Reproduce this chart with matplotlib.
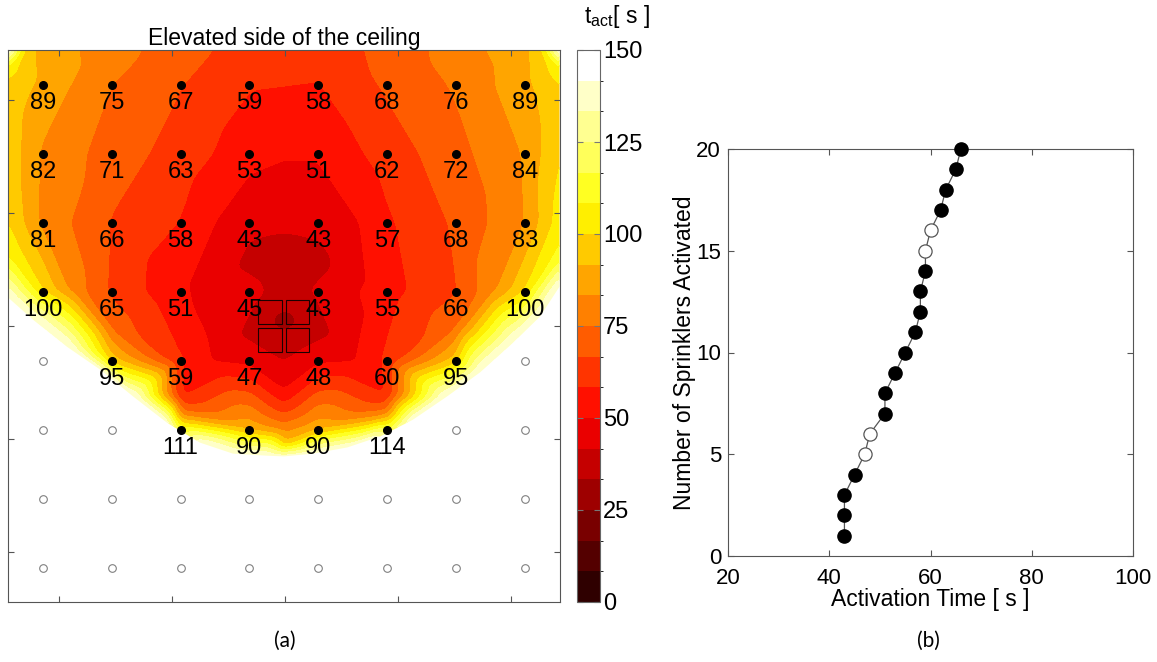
import numpy as np
import matplotlib
matplotlib.use("Agg")
import matplotlib.pyplot as plt
import matplotlib.tri as mtri
from matplotlib.patches import Polygon, Rectangle
from matplotlib.colors import ListedColormap, BoundaryNorm

plt.rcParams['font.family'] = ['Liberation Sans', 'DejaVu Sans']
plt.rcParams['mathtext.fontset'] = 'custom'
plt.rcParams['mathtext.rm'] = 'Liberation Sans'
plt.rcParams['mathtext.it'] = 'Liberation Sans:italic'

# ---------------- data: panel (a) ----------------
# sprinkler activation times [s]; row 0 = elevated side; None = not activated
T_GRID = [
    [89, 75, 67, 59, 58, 68, 76, 89],
    [82, 71, 63, 53, 51, 62, 72, 84],
    [81, 66, 58, 43, 43, 57, 68, 83],
    [100, 65, 51, 45, 43, 55, 66, 100],
    [None, 95, 59, 47, 48, 60, 95, None],
    [None, None, 111, 90, 90, 114, None, None],
    [None] * 8,
    [None] * 8,
]
NOT_ACT_T = 150.0          # contouring value assigned to non-activated heads

# field read along the ceiling edges (grid units, time [s])
EDGE_U = [-0.5, -0.5, -0.5, -0.5, -0.5, -0.5, -0.25,
          0, 1, 2, 3, 4, 5, 6, 7, 7.25,
          7.5, 7.5, 7.5, 7.5, 7.5, 7.5]
EDGE_V = [-0.5, -0.25, 0, 1, 2, 2.5, -0.5,
          -0.5, -0.5, -0.5, -0.5, -0.5, -0.5, -0.5, -0.5, -0.5,
          -0.5, -0.25, 0, 1, 2, 2.5]
EDGE_T = [148, 104, 98, 97, 100, 108, 96,
          88, 79, 70, 63, 62, 69, 79, 89, 98,
          148, 105, 100, 100, 104, 112]

# visible outer limit of the activated area
BND_U = [-0.5, -0.14, 0.35, 0.83, 1.31, 1.80, 2.28, 2.76, 3.26, 3.5,
         3.92, 4.42, 4.90, 5.37, 5.87, 6.35, 6.83, 7.22, 7.5]
BND_V = [3.09, 3.41, 3.80, 4.13, 4.52, 4.90, 5.19, 5.35, 5.38, 5.39,
         5.35, 5.26, 5.10, 4.86, 4.52, 4.17, 3.74, 3.36, 2.93]
BND_T = 143.0

# field read around the fire (dark plume) and near the lower limit
CORE_U = [3.5, 3.5, 3.5, 2.95, 4.1, 3.5, 3.5, 3.5, 2.9, 4.15,
          3.5, 3.5, 2.5, 4.5, 3.5, 2.5, 4.6, 3.5, 3.5, 2.5, 4.5,
          2.0, 2.0, 5.0, 5.0, 1.0, 6.0, 0.5, 6.5]
CORE_V = [3.4, 3.1, 2.6, 2.6, 2.6, 2.25, 1.1, 3.62, 3.62, 3.62,
          4.45, 4.7, 3.5, 3.5, 1.5, 2.0, 2.0, 5.0, 5.22, 4.0, 4.0,
          4.5, 4.75, 4.5, 4.75, 3.5, 3.5, 3.0, 3.0]
CORE_T = [30, 38, 35, 40, 40, 41, 50, 34, 41, 41,
          50, 62, 47, 47, 46, 50, 50, 80, 93, 49, 49,
          57, 75, 58, 76, 72, 73, 78, 80]

# fire (2 x 2 rack) footprint, grid units
RACK_X0 = [3.13, 3.53]
RACK_Y0 = [3.13, 3.53]
RACK_SIZE = 0.34

LEVELS = np.linspace(0, 150, 19)
CBAR_TICKS = [0, 25, 50, 75, 100, 125, 150]
XTICKS_A = [0.24, 1.88, 3.52, 5.16, 6.80]
YTICKS_A = [0.22, 1.86, 3.50, 5.14, 6.78]

# ---------------- data: panel (b) ----------------
ACT_TIME = [43, 43, 43, 45, 47, 48, 51, 51, 53, 55, 57, 58, 58, 59, 59, 60, 62, 63, 65, 66]
N_ACT = list(range(1, 21))
OPEN_MARK = [0, 0, 0, 0, 1, 1, 0, 0, 0, 0, 0, 0, 0, 0, 1, 1, 0, 0, 0, 0]

# ---------------- figure ----------------
W, H = 1157, 662
fig = plt.figure(figsize=(W / 100, H / 100), dpi=100)

def box(x0, y0, x1, y1):
    return [x0 / W, 1 - y1 / H, (x1 - x0) / W, (y1 - y0) / H]

ax = fig.add_axes(box(8.3, 50, 559.5, 602))
cax = fig.add_axes(box(577, 50, 600, 602))
bx = fig.add_axes(box(728, 149, 1133, 556))

# assemble contour nodes
pu, pv, pt = [], [], []
for r, row in enumerate(T_GRID):
    for c, t in enumerate(row):
        pu.append(c); pv.append(r)
        pt.append(NOT_ACT_T if t is None else t)
pu += EDGE_U; pv += EDGE_V; pt += EDGE_T
pu += BND_U; pv += BND_V; pt += [BND_T] * len(BND_U)
pu += CORE_U; pv += CORE_V; pt += CORE_T
for (cu, cv) in [(-0.5, 7.5), (7.5, 7.5), (-0.5, 4.5), (7.5, 4.5), (-0.5, 6), (7.5, 6)]:
    pu.append(cu); pv.append(cv); pt.append(NOT_ACT_T)

tri = mtri.Triangulation(np.array(pu, float), np.array(pv, float))
interp = mtri.LinearTriInterpolator(tri, np.array(pt, float))
gu = np.linspace(-0.5, 7.5, 481)
GU, GV = np.meshgrid(gu, gu)
F = np.ma.filled(interp(GU, GV), NOT_ACT_T)

# light gaussian smoothing of the interpolated surface
sig = 0.065 / (gu[1] - gu[0])
kx = np.arange(-int(3 * sig), int(3 * sig) + 1)
ker = np.exp(-0.5 * (kx / sig) ** 2); ker /= ker.sum()
npad = len(kx) // 2
Fp = np.pad(F, npad, mode='edge')
Fp = np.apply_along_axis(lambda m: np.convolve(m, ker, mode='same'), 0, Fp)
Fp = np.apply_along_axis(lambda m: np.convolve(m, ker, mode='same'), 1, Fp)
F = Fp[npad:-npad, npad:-npad]

band_colors = plt.cm.hot(LEVELS[1:] / LEVELS[-1])
cmap = ListedColormap(band_colors)
norm = BoundaryNorm(LEVELS, cmap.N)
cs = ax.contourf(GU, GV, F, levels=LEVELS, cmap=cmap, norm=norm)

clip_xy = list(zip(BND_U, BND_V)) + [(7.5, -0.5), (-0.5, -0.5)]
clip = Polygon(clip_xy, closed=True, transform=ax.transData, facecolor='none', edgecolor='none')
ax.add_patch(clip)
cs.set_clip_path(clip)

# racks
for x0 in RACK_X0:
    for y0 in RACK_Y0:
        ax.add_patch(Rectangle((x0, y0), RACK_SIZE, RACK_SIZE, fill=False,
                               edgecolor='#1a0000', lw=0.8, zorder=3))

# sprinklers
for r, row in enumerate(T_GRID):
    for c, t in enumerate(row):
        if t is None:
            ax.plot(c, r, 'o', ms=5.5, mfc='white', mec='#808080', mew=0.8, zorder=4)
        else:
            ax.plot(c, r, 'o', ms=5.5, mfc='black', mec='black', zorder=4)
            ax.text(c, r + 0.27, str(t), ha='center', va='center', fontsize=17, zorder=5)

ax.set_xlim(-0.5, 7.5)
ax.set_ylim(7.5, -0.5)
ax.set_xticks(XTICKS_A)
ax.set_yticks(YTICKS_A)
ax.tick_params(direction='in', length=4, top=True, right=True,
               labelbottom=False, labelleft=False, color='#555555')
for s in ax.spines.values():
    s.set_color('#555555'); s.set_linewidth(0.8)
ax.set_title('Elevated side of the ceiling', fontsize=16.5, pad=3)

cbar = fig.colorbar(cs, cax=cax, ticks=CBAR_TICKS)
cbar.outline.set_edgecolor('#666666')
cbar.outline.set_linewidth(0.8)
cax.tick_params(direction='in', length=4, left=True, right=True, labelsize=17, color='#777777', pad=2)
fig.text(617 / W, 1 - 17 / H, r'$\mathrm{t_{act}}$[ s ]', ha='center', va='center', fontsize=16.5)

# panel (b)
bx.plot(ACT_TIME, N_ACT, '-', color='#555555', lw=0.9, zorder=2)
for t, n, o in zip(ACT_TIME, N_ACT, OPEN_MARK):
    if o:
        bx.plot(t, n, 'o', ms=9.5, mfc='white', mec='#555555', mew=0.9, zorder=3, clip_on=False)
    else:
        bx.plot(t, n, 'o', ms=9.5, mfc='black', mec='black', zorder=3, clip_on=False)
bx.set_xlim(20, 100)
bx.set_ylim(0, 20)
bx.set_xticks([20, 40, 60, 80, 100])
bx.set_yticks([0, 5, 10, 15, 20])
bx.tick_params(direction='in', length=4, top=True, right=True, labelsize=16, color='#555555')
bx.tick_params(axis='x', pad=9)
bx.tick_params(axis='y', pad=5)
for s in bx.spines.values():
    s.set_color('#555555'); s.set_linewidth(0.8)
bx.set_xlabel('Activation Time [ s ]', fontsize=16.5, labelpad=-1)
bx.set_ylabel('Number of Sprinklers Activated', fontsize=16.5, labelpad=0)

fig.text(285 / W, 1 - 641 / H, '(a)', ha='center', va='center', fontsize=15, family=['Lato', 'DejaVu Sans'])
fig.text(928 / W, 1 - 641 / H, '(b)', ha='center', va='center', fontsize=15, family=['Lato', 'DejaVu Sans'])

fig.savefig('out.png', dpi=100)
